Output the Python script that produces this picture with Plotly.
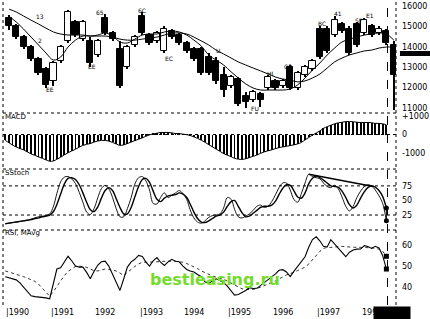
import pandas as pd
import plotly.graph_objects as go
from plotly.subplots import make_subplots

# ---------------- data ----------------
candle_dates = pd.date_range("1990-02-01", periods=53, freq="2MS")
opens  = [15400,15000,14500,14000,13400,12900,12300,13300,14300,15200,
          14400,14300,13600,15400,14700,13900,13000,14100,15500,14600,
          14300,13800,14800,14600,14200,13900,13900,13500,13300,12600,
          12100,12400,11600,11400,11700,12000,12300,12100,13000,12000,
          12600,12900,14900,14900,14600,15100,14900,15100,14700,15000,
          14700,14800,14100]
highs  = [15550,15100,14600,14100,13500,13000,13300,14100,15800,15300,
          15300,14500,14400,15600,14800,14300,14100,14600,15700,14700,
          14800,15000,14900,14700,14300,14000,14000,13700,13500,13000,
          12600,12500,11800,11900,11800,12600,12400,12400,13100,12800,
          13100,13400,15000,15000,15500,15200,15000,15200,15400,15100,
          15000,14900,14300]
lows   = [14850,14400,13900,13300,12600,12000,12100,13200,14200,14500,
          14300,13000,13500,14600,14300,12000,12900,14000,14600,14100,
          14200,13700,14400,14100,13700,13300,12600,12600,12200,11550,
          12000,11100,11000,11300,11050,11900,11900,12000,11900,11900,
          12500,12800,13400,13700,14500,14700,13600,14000,14600,14500,
          14600,14100,10900]
closes = [15000,14500,14000,13400,12700,12150,13200,14000,15700,14600,
          15200,13200,14300,14700,14400,12100,14000,14500,14700,14200,
          14700,14900,14500,14200,13800,13400,12700,12700,12300,11900,
          12500,11200,11300,11800,11400,12500,12000,12300,12000,12700,
          13000,13300,13500,13800,15300,14800,13700,14100,15300,14600,
          14900,14200,12600]
ma_fast = [15500,15220,14870,14480,14090,13700,13350,13500,13990,14330,
           14530,14530,14580,14680,14530,14240,14190,14380,14580,14630,
           14630,14730,14780,14730,14580,14330,14040,13600,13350,13110,
           12770,12470,12180,11980,11880,11880,11880,11880,11930,12130,
           12470,12860,13210,13600,13940,14240,14380,14480,14580,14630,
           14680,14630,14330]
ma_slow = [15850,15710,15510,15310,15120,14920,14730,14630,14580,14580,
           14580,14530,14530,14530,14480,14380,14330,14330,14380,14430,
           14480,14580,14680,14680,14630,14480,14290,14090,13840,13650,
           13450,13260,13110,12960,12820,12670,12520,12420,12370,12280,
           12330,12470,12670,12960,13260,13450,13600,13700,13800,13840,
           13940,13990,13990]

month_dates = pd.date_range("1990-01-01", periods=104, freq="MS")
macd = [-320,-450,-570,-680,-760,-830,-940,-1050,-1130,-1210,
        -1290,-1370,-1450,-1430,-1340,-1230,-1100,-990,-890,-800,
        -680,-590,-530,-490,-410,-350,-320,-320,-360,-430,
        -510,-590,-560,-490,-410,-330,-260,-180,-100,-20,
        30,70,110,110,110,90,50,50,20,-10,
        -50,-130,-210,-310,-420,-550,-670,-790,-910,-1030,
        -1120,-1200,-1290,-1330,-1350,-1310,-1250,-1180,-1110,-1020,
        -940,-880,-830,-760,-710,-670,-640,-600,-560,-510,
        -430,-290,-160,-30,80,200,330,420,500,580,
        630,660,700,700,690,660,650,650,650,640,
        600,600,580,520]
stoch_k = [10,11,12,13,14,15,16,18,20,22,
           23,24,27,40,62,82,90,91,87,79,
           64,47,30,26,36,55,70,76,70,55,
           36,22,22,36,55,78,89,91,84,68,
           45,44,55,63,55,59,63,67,62,52,
           34,20,13,11,15,21,24,25,27,37,
           55,52,35,22,20,23,27,33,40,42,
           38,40,48,60,72,80,80,68,52,47,
           62,80,95,91,89,87,80,74,72,76,
           70,56,40,32,40,55,66,74,77,75,
           68,58,45,15]
stoch_d = [10,11,12,13,14,15,16,17,19,20,
           22,23,25,31,43,61,78,88,89,86,
           77,63,47,34,31,39,54,67,72,67,
           53,38,27,27,38,56,74,86,88,81,
           66,52,48,54,58,59,60,63,61,55,
           44,30,19,13,12,15,19,23,25,30,
           40,48,50,40,29,22,23,28,33,38,
           40,40,42,49,60,71,77,76,67,56,
           54,63,79,88,92,89,85,80,75,74,
           73,66,55,43,37,42,54,65,72,75,
           73,67,57,37]
trend_dates = ["1996-11-01", "1998-04-15"]
trend_vals = [95, 74]
rsi = [45,44.5,44.2,43.5,42.1,40,38,36,35.6,35.5,
       35.3,35,34.6,42.5,48.6,49.2,52,54.6,52.5,50,
       49.5,49.5,47,44,47.5,50.5,52,52.3,50,46,
       42,38.5,44,49.5,52,53.2,55,54.5,52,50,
       52.5,54,51.8,50.3,52,53.2,52.3,52,50,48.4,
       47.7,47.2,46,45,42.6,41.8,43,44,43.2,42.2,
       40.5,38,36.3,36.6,37.5,38.5,39.8,39.4,39.5,40.8,
       42.2,43.3,44.6,46.3,48,48.3,47.2,45,47.5,50,
       52.3,54.4,59,62.5,63.8,61.8,59.3,59,62.4,60.3,
       58.8,56.7,54.4,56.5,57.6,58,58.1,59.6,59.2,58.3,
       59.3,58.5,55,48.6]
rsi_ma = [47.7,47.2,46.7,46.2,45.6,45,44.3,43.6,42.8,41.5,
          39.5,37.5,35.8,38,40.5,42.8,45.5,47.5,48.8,49.8,
          50,49.8,49.4,48.6,47.8,47.7,48.2,48.6,48.4,48,
          47.7,46.7,45.5,47,48.6,49.8,51,51.8,51.8,51.8,
          51.8,52,52.2,52.3,52.3,52.3,52.2,52,51.8,51.2,
          50.5,49.8,48.8,47.7,46.9,46,45.3,44.8,44.3,43.8,
          42.9,42,41.1,40.2,39.3,39,39,39,39.4,40,
          40.7,41.4,42.2,43,44,45,45.8,46.5,47,47.9,
          48.8,49.5,51,53,55,57,58.3,58.8,58.8,59,
          59.2,59.3,59.1,58.9,58.8,58.8,58.8,58.8,58.8,58.6,
          58.3,58,57,54.6]

label_dates = ["1991-01-05","1991-12-15","1992-02-20","1993-02-01","1993-09-10",
               "1994-10-20","1995-08-15","1995-12-20","1996-05-15","1997-02-20",
               "1997-07-01","1997-12-15","1998-03-20","1990-10-15","1990-10-15"]
label_prices = [11900,13050,15700,15800,13450,13800,10950,12700,13050,15150,
                15650,15300,15550,15500,14330]
label_texts = ["EE","EE","65","6C","EC","U","FU","HI","C3","BC","41","SF","E1","13","2"]

year_labels = ["|1990","|1991","1992","|1993","1994","|1995","1996","|1997","1998"]
year_dates = ["1990-01-01","1991-01-01","1992-01-01","1993-01-01","1994-01-01",
              "1995-01-01","1996-01-01","1997-01-01","1998-01-01"]

price_ticks = [16000,15000,14000,13000,12000,11000]
macd_ticks = [1000, 0, -1000]
macd_ticktext = ["+1000", "0", "-1000"]
stoch_ticks = [75, 50, 25]
rsi_ticks = [60, 50, 40]

# ---------------- figure ----------------
H = 305.0
def py(px):
    return 1 - px / H

DAY_MS = 86400000
fig = make_subplots(rows=4, cols=1, shared_xaxes=True, vertical_spacing=0.01)

cx = candle_dates[:len(opens)]
# whiskers
fig.add_trace(go.Bar(x=cx, y=[h - l for h, l in zip(highs, lows)], base=lows,
                     width=9 * DAY_MS, marker=dict(color="black", line=dict(width=0)),
                     showlegend=False), row=1, col=1)
# bodies
fig.add_trace(go.Bar(x=cx, y=[max(abs(c - o), 40) for o, c in zip(opens, closes)],
                     base=[min(o, c) for o, c in zip(opens, closes)],
                     width=50 * DAY_MS,
                     marker=dict(color=["black" if c < o else "white" for o, c in zip(opens, closes)],
                                 line=dict(color="black", width=1)),
                     showlegend=False), row=1, col=1)
fig.add_trace(go.Scatter(x=candle_dates[:len(ma_fast)], y=ma_fast, mode="lines",
                         line=dict(color="black", width=1, shape="spline"), showlegend=False), row=1, col=1)
fig.add_trace(go.Scatter(x=candle_dates[:len(ma_slow)], y=ma_slow, mode="lines",
                         line=dict(color="black", width=1, shape="spline"), showlegend=False), row=1, col=1)

fig.add_trace(go.Bar(x=month_dates[:len(macd)], y=macd, marker=dict(color="black", line=dict(width=0)),
                     width=7.5 * DAY_MS, showlegend=False), row=2, col=1)
fig.add_trace(go.Scatter(x=month_dates[:len(macd)], y=macd, mode="lines",
                         line=dict(color="black", width=1, shape="spline"), showlegend=False), row=2, col=1)

fig.add_trace(go.Scatter(x=month_dates[:len(stoch_k)], y=stoch_k, mode="lines",
                         line=dict(color="black", width=0.9, shape="spline"), showlegend=False), row=3, col=1)
fig.add_trace(go.Scatter(x=month_dates[:len(stoch_d)], y=stoch_d, mode="lines",
                         line=dict(color="black", width=1.4, shape="spline"), showlegend=False), row=3, col=1)
fig.add_trace(go.Scatter(x=trend_dates, y=trend_vals, mode="lines",
                         line=dict(color="black", width=1.4), showlegend=False), row=3, col=1)
fig.add_trace(go.Scatter(x=[month_dates[len(stoch_k)-1]]*2, y=[stoch_k[-1], stoch_d[-1]], mode="lines+markers",
                         line=dict(color="black", width=1), marker=dict(color="black", size=5),
                         showlegend=False), row=3, col=1)

fig.add_trace(go.Scatter(x=month_dates[:len(rsi)], y=rsi, mode="lines",
                         line=dict(color="black", width=1.1), showlegend=False), row=4, col=1)
fig.add_trace(go.Scatter(x=month_dates[:len(rsi_ma)], y=rsi_ma, mode="lines",
                         line=dict(color="black", width=0.8, dash="dot"), showlegend=False), row=4, col=1)
fig.add_trace(go.Scatter(x=[month_dates[len(rsi)-1]]*2, y=[rsi[-1], rsi_ma[-1]], mode="markers",
                         marker=dict(color="black", size=5, symbol="square"), showlegend=False), row=4, col=1)

tickfont = dict(family="DejaVu Sans", size=8, color="black")
common_y = dict(side="right", showgrid=False, zeroline=False, ticks="", showline=False,
                tickfont=tickfont, ticklabelstandoff=5, fixedrange=True)
fig.update_layout(
    yaxis=dict(domain=[py(111), 1], range=[10850, 16300], tickvals=price_ticks,
               ticktext=[str(v) for v in price_ticks], **common_y),
    yaxis2=dict(domain=[py(168), py(112)], range=[-1811, 1216], tickvals=macd_ticks,
                ticktext=macd_ticktext, **common_y),
    yaxis3=dict(domain=[py(229), py(169)], range=[1, 104], tickvals=stoch_ticks,
                ticktext=[str(v) for v in stoch_ticks], **common_y),
    yaxis4=dict(domain=[py(300), py(230)], range=[34, 67], tickvals=rsi_ticks,
                ticktext=[str(v) for v in rsi_ticks], **common_y),
)
xrange = ["1989-12-13", "1998-10-19"]
for i in range(1, 5):
    fig.update_layout(**{("xaxis" if i == 1 else f"xaxis{i}"): dict(
        range=xrange, showticklabels=False, showgrid=False, zeroline=False,
        showline=False, ticks="", type="date")})

dot = dict(color="black", width=1, dash="dot")
shapes = [
    dict(type="line", xref="paper", yref="paper", x0=0, x1=0, y0=0.0, y1=1, line=dot),
    dict(type="line", xref="paper", yref="paper", x0=1, x1=1, y0=0.0, y1=1, line=dot),
    dict(type="line", xref="paper", yref="paper", x0=0, x1=1, y0=py(113), y1=py(113), line=dot),
    dict(type="line", xref="paper", yref="paper", x0=0, x1=1, y0=py(169), y1=py(169), line=dot),
    dict(type="line", xref="paper", yref="paper", x0=0, x1=1, y0=py(230), y1=py(230), line=dot),
    dict(type="line", xref="x", yref="paper", x0="1998-08-10", x1="1998-08-10", y0=0, y1=1,
         line=dict(color="black", width=1, dash="dash")),
    dict(type="line", xref="paper", yref="y2", x0=0, x1=1, y0=0, y1=0, line=dot),
    dict(type="line", xref="paper", yref="y3", x0=0, x1=1, y0=75, y1=75, line=dot),
    dict(type="line", xref="paper", yref="y3", x0=0, x1=1, y0=25, y1=25, line=dot),
    dict(type="rect", xref="paper", yref="paper", x0=1.01, x1=1.09, y0=py(56), y1=py(51),
         fillcolor="black", line=dict(width=0), layer="above"),
]

annotations = []
for d, t in zip(year_dates, year_labels):
    annotations.append(dict(x=d, y=-0.023, xref="x", yref="paper", text=t, showarrow=False,
                            xanchor="left", yanchor="middle", xshift=-1,
                            font=dict(family="DejaVu Sans", size=8, color="black")))
for d, p, t in zip(label_dates, label_prices, label_texts):
    annotations.append(dict(x=d, y=p, xref="x", yref="y", text=t, showarrow=False,
                            font=dict(family="DejaVu Sans", size=6, color="black")))
for txt, ypx in [("MACD", 117), ("SStoch", 173), ("RSI, MAvg", 233)]:
    annotations.append(dict(x=0, y=py(ypx), xref="paper", yref="paper", text=txt, showarrow=False,
                            xanchor="left", yanchor="middle",
                            font=dict(family="DejaVu Sans", size=7, color="black")))
annotations.append(dict(x=(215 - 3) / 393, y=py(291), xref="paper", yref="paper",
                        text="<b>bestleasing.ru</b>", showarrow=False,
                        font=dict(family="DejaVu Sans", size=16, color="#74dc2c")))
annotations.append(dict(x=(373 - 3) / 393, y=py(313), xref="paper", yref="paper",
                        text=" ", showarrow=False, xanchor="left", yanchor="middle",
                        width=34, height=10, bgcolor="black"))

fig.update_layout(
    width=430, height=319, margin=dict(l=3, r=34, t=0, b=14),
    paper_bgcolor="white", plot_bgcolor="white", barmode="overlay",
    shapes=shapes, annotations=annotations, showlegend=False, bargap=0,
)

fig.write_html("out.html")
